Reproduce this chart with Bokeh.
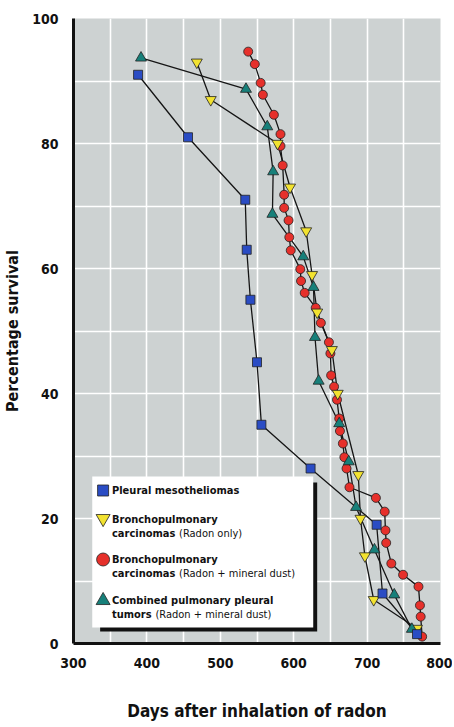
from bokeh.plotting import figure
from bokeh.models import FixedTicker, Range1d
from bokeh.core.properties import value
from bokeh.embed import file_html
from bokeh.resources import INLINE

FONT = "DejaVu Sans Condensed"

# ---- data ----
meso_days = [388, 456, 534, 536, 541, 550, 556, 623, 713, 721, 768]
meso_pct = [91, 81, 71, 63, 55, 45, 35, 28, 19, 8, 1.5]

radon_days = [468, 487, 578, 595, 617, 625, 632, 652, 660, 688, 691, 697, 709, 768]
radon_pct = [93, 87, 80, 73, 66, 59, 53, 47, 40, 27, 20, 14, 7, 2.4]

dust_days = [538, 547, 555, 558, 573, 582, 582, 585, 587, 587, 593, 594, 596, 609, 610, 615,
             630, 637, 648, 650, 651, 655, 659, 662, 663, 667, 669, 672, 676, 712, 724, 725,
             726, 733, 749, 770, 772, 773, 775]
dust_pct = [94.7, 92.7, 89.7, 87.8, 84.6, 81.5, 79.6, 76.5, 71.8, 69.7, 67.7, 65, 62.9, 59.9, 58, 56.1,
            53.7, 51.3, 48.2, 46.4, 42.9, 41.1, 39, 36, 34, 32, 29.8, 28, 25, 23.3, 21.1, 18.1,
            16.1, 12.8, 11, 9.1, 6.1, 4.3, 1.1]

comb_days = [392, 535, 564, 572, 571, 613, 627, 629, 634, 662, 675, 685, 710, 737, 761]
comb_pct = [93.7, 88.7, 82.7, 75.5, 68.7, 61.9, 57, 49, 42, 35.2, 29.1, 21.8, 15, 7.8, 2.3]

x_ticks = [300, 400, 500, 600, 700, 800]
y_ticks = [0, 20, 40, 60, 80, 100]

legend_labels = ["Pleural  mesotheliomas", "Bronchopulmonary", "carcinomas", "Bronchopulmonary",
                 "carcinomas", "Combined pulmonary pleural", "tumors"]
legend_notes = ["(Radon only)", "(Radon + mineral dust)", "(Radon + mineral dust)"]

BLUE = "#2a4cc4"
YELLOW = "#f2e230"
RED = "#e6302b"
TEAL = "#17807a"

p = figure(width=452, height=726, x_range=Range1d(300, 800), y_range=Range1d(0, 100),
           output_backend="svg", toolbar_location=None,
           min_border_left=68, min_border_right=12, min_border_top=18, min_border_bottom=83)
p.background_fill_color = "#cdd2d2"
p.border_fill_color = "white"
p.outline_line_color = None

p.xaxis.ticker = FixedTicker(ticks=x_ticks)
p.yaxis.ticker = FixedTicker(ticks=y_ticks)
p.xgrid.ticker = FixedTicker(ticks=list(range(350, 800, 50)))
p.ygrid.ticker = FixedTicker(ticks=list(range(10, 100, 10)))
for g in (p.xgrid, p.ygrid):
    g.grid_line_color = "white"
    g.grid_line_width = 1.6

for ax in (p.xaxis, p.yaxis):
    ax.axis_line_width = 3
    ax.axis_line_color = "#111111"
    ax.major_tick_line_color = None
    ax.minor_tick_line_color = None
    ax.major_label_text_font = FONT
    ax.major_label_text_font_style = "bold"
    ax.major_label_text_font_size = "14px"
    ax.major_label_text_color = "#111111"
    ax.axis_label_text_font = FONT
    ax.axis_label_text_font_style = "bold"
    ax.axis_label_text_color = "#111111"

p.xaxis.axis_label = "Days after inhalation of radon"
p.xaxis.axis_label_text_font_size = "17px"
p.xaxis.major_label_standoff = 8
p.xaxis.axis_label_standoff = 30
p.yaxis.axis_label = "Percentage survival"
p.yaxis.axis_label_text_font_size = "16px"
p.yaxis.major_label_standoff = 9
p.yaxis.axis_label_standoff = 7

# lines
for xs, ys in ((meso_days, meso_pct), (radon_days, radon_pct), (dust_days, dust_pct), (comb_days, comb_pct)):
    p.line(xs, ys, line_color="#151515", line_width=1.3)

# markers
p.scatter(dust_days, dust_pct, marker="circle", size=9, fill_color=RED, line_color="#222222", line_width=0.8)
p.scatter(radon_days, radon_pct, marker="inverted_triangle", size=11, fill_color=YELLOW, line_color="#222222", line_width=0.8)
p.scatter(comb_days, comb_pct, marker="triangle", size=11, fill_color=TEAL, line_color="#222222", line_width=0.8)
p.scatter(meso_days, meso_pct, marker="square", size=9, fill_color=BLUE, line_color="#222222", line_width=0.8)

# ---- legend box (pixel layout converted to data space) ----
def fx(px):
    return 300 + (px - 68) / 0.744

def fy(py):
    return (643 - py) / 6.25

bl, br, bt, bb = 87, 311, 476, 627
p.quad(left=[fx(bl + 8)], right=[fx(br + 4)], top=[fy(bt + 6)], bottom=[fy(bb + 4)],
       fill_color="#111111", line_color=None)
p.quad(left=[fx(bl)], right=[fx(br)], top=[fy(bt)], bottom=[fy(bb)],
       fill_color="white", line_color=None)

mx = 98
tx = 107
LS = 11
rows = [490, 519, 533, 559, 573, 600, 614]
p.scatter([fx(mx)], [fy(rows[0])], marker="square", size=11, fill_color=BLUE, line_color="#222222", line_width=0.8)
p.scatter([fx(mx)], [fy(rows[1]) + 0.15], marker="inverted_triangle", size=14, fill_color=YELLOW, line_color="#222222", line_width=0.8)
p.scatter([fx(mx)], [fy(rows[3])], marker="circle", size=13, fill_color=RED, line_color="#222222", line_width=0.8)
p.scatter([fx(mx)], [fy(rows[5])], marker="triangle", size=14, fill_color=TEAL, line_color="#222222", line_width=0.8)

p.text([fx(tx)] * 7, [fy(r) for r in rows], text=legend_labels, text_font=value(FONT), text_font_style="bold",
       text_font_size=f"{LS}px", text_baseline="middle", text_align="left", text_color="#111111")

reg_x = [fx(tx + 68), fx(tx + 68), fx(tx + 44)]
reg_y = [fy(rows[2]), fy(rows[4]), fy(rows[6])]
p.text(reg_x, reg_y, text=legend_notes, text_font=value(FONT), text_font_style="normal",
       text_font_size=f"{LS}px", text_baseline="middle", text_align="left", text_color="#111111")

open("out.html", "w").write(file_html(p, INLINE))
